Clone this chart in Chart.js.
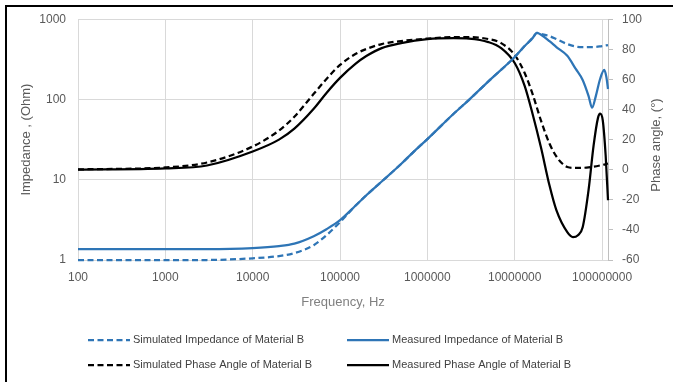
<!DOCTYPE html>
<html><head><meta charset="utf-8">
<script src="https://cdn.jsdelivr.net/npm/chart.js@4.4.0/dist/chart.umd.min.js"></script>
<style>html,body{margin:0;padding:0;background:#fff;} #c{display:block;}</style>
</head><body>
<canvas id="c" width="673" height="382"></canvas>
<script>
// ---- tick labels ----
const xTicks = [100, 1000, 10000, 100000, 1000000, 10000000, 100000000];
const zTicks = [1, 10, 100, 1000];
const xMax = 1.17e8;

// ---- series ----
const simZFreq = [100, 1000, 3000, 1e4, 2e4, 3e4, 5e4, 7e4, 1e5, 1.5e5, 2e5, 3e5, 5e5, 7e5, 1e6, 2e6, 3e6, 5e6, 1e7, 1.3e7, 1.6e7, 1.8e7, 2e7, 2.5e7, 3e7, 4e7, 5e7, 6e7, 8e7, 1e8, 1.17e8];
const simZ     = [1.0, 1.0, 1.0, 1.05, 1.12, 1.22, 1.53, 2.04, 2.96, 4.74, 6.4, 9.5, 15.7, 22.4, 32.1, 66.4, 99, 168, 338, 463, 581, 675, 655, 615, 565, 490, 456, 449, 449, 463, 476];

const measZFreq = [100, 1000, 3000, 1e4, 2e4, 3e4, 5e4, 7e4, 1e5, 1.5e5, 2e5, 3e5, 5e5, 7e5, 1e6, 2e6, 3e6, 5e6, 1e7, 1.3e7, 1.6e7, 1.8e7, 2e7, 2.5e7, 3e7, 4e7, 5e7, 6e7, 7e7, 7.7e7, 8.5e7, 9.5e7, 1.06e8, 1.12e8, 1.17e8];
const measZ     = [1.37, 1.37, 1.37, 1.41, 1.49, 1.60, 1.98, 2.42, 3.13, 4.74, 6.4, 9.5, 15.7, 22.4, 32.1, 66.4, 99, 168, 338, 463, 581, 675, 640, 533, 450, 350, 240, 175, 111, 79, 111, 180, 233, 191, 135];

const simPFreq = [100, 1000, 3000, 1e4, 2e4, 3e4, 5e4, 7e4, 1e5, 1.5e5, 2e5, 3e5, 5e5, 1e6, 2e6, 3e6, 5e6, 7e6, 1e7, 1.3e7, 1.6e7, 2e7, 2.5e7, 3e7, 3.5e7, 4e7, 5e7, 7e7, 1e8, 1.17e8];
const simP     = [0.2, 1.5, 4.8, 15.4, 26, 35.2, 50.4, 60.3, 69.6, 76.9, 80.2, 83.5, 85.5, 87.1, 88.1, 88.1, 86.8, 84.1, 76.2, 64.3, 50.4, 32.6, 17.4, 8.8, 4.1, 1.8, 1.2, 1.5, 3.1, 4.1];

const measPFreq = [100, 1000, 3000, 1e4, 2e4, 3e4, 5e4, 7e4, 1e5, 1.5e5, 2e5, 3e5, 5e5, 1e6, 2e6, 3e6, 5e6, 7e6, 1e7, 1.3e7, 1.6e7, 2e7, 2.5e7, 3e7, 4e7, 4.65e7, 5.3e7, 6e7, 7e7, 8e7, 9e7, 9.5e7, 1.02e8, 1.1e8, 1.17e8];
const measP     = [0, 0.8, 2.8, 12.1, 20, 27.3, 40.5, 51, 61, 70.3, 75.5, 80.8, 84.1, 86.8, 87.4, 87.1, 84.8, 80.8, 70.9, 55.7, 37.2, 14.7, -10.4, -26.9, -41.5, -44.8, -43.5, -38.2, -13.7, 16.0, 34.6, 37.2, 32.6, 9.4, -20.3];

const seriesLabels = [
  'Simulated Impedance of Material B',
  'Measured Impedance of Material B',
  'Simulated Phase Angle of Material B',
  'Measured Phase Angle of Material B'
];
const xTitle = 'Frequency, Hz';
const yTitle = 'Impedance , (Ohm)';
const y2Title = 'Phase angle, (°)';

// ---- styling ----
const FONT = "'Liberation Sans', Arial, sans-serif";
const BLUE = '#2e75b6';
const GRID = '#d9d9d9';
const TICK = '#595959';
const LINE_W = 2.25;
const pts = (xs, ys) => xs.map((x, i) => ({x: x, y: ys[i]}));

const legendPlugin = {
  id: 'customLegend',
  afterDraw(chart) {
    const ctx = chart.ctx;
    const cols = [88, 347], rows = [340, 365], lineLen = 42;
    chart.data.datasets.forEach((ds, i) => {
      const x = cols[i % 2], y = rows[Math.floor(i / 2)];
      ctx.save();
      ctx.strokeStyle = ds.borderColor;
      ctx.lineWidth = LINE_W;
      ctx.setLineDash(ds.borderDash || []);
      ctx.beginPath(); ctx.moveTo(x, y); ctx.lineTo(x + lineLen, y); ctx.stroke();
      ctx.setLineDash([]);
      ctx.fillStyle = '#404040';
      ctx.font = '11px ' + FONT;
      ctx.textBaseline = 'middle';
      ctx.textAlign = 'left';
      ctx.fillText(ds.label, x + lineLen + 3, y);
      ctx.restore();
    });
    // right axis title (reads bottom-to-top)
    ctx.save();
    ctx.translate(656, 145);
    ctx.rotate(-Math.PI / 2);
    ctx.fillStyle = TICK;
    ctx.font = '13px ' + FONT;
    ctx.textAlign = 'center';
    ctx.textBaseline = 'middle';
    ctx.fillText(y2Title, 0, 0);
    ctx.restore();
    // frame
    ctx.save();
    ctx.fillStyle = '#000';
    ctx.fillRect(5, 5, 668, 2);
    ctx.fillRect(5, 5, 2, 377);
    ctx.restore();
  }
};

new Chart(document.getElementById('c'), {
  type: 'line',
  data: {
    datasets: [
      {label: seriesLabels[0], data: pts(simZFreq, simZ), yAxisID: 'y', borderColor: BLUE, borderDash: [6, 3.5], clip: 4},
      {label: seriesLabels[1], data: pts(measZFreq, measZ), yAxisID: 'y', borderColor: BLUE, clip: 4},
      {label: seriesLabels[2], data: pts(simPFreq, simP), yAxisID: 'y2', borderColor: '#000', borderDash: [6, 3.5], clip: 4},
      {label: seriesLabels[3], data: pts(measPFreq, measP), yAxisID: 'y2', borderColor: '#000', clip: 4}
    ]
  },
  options: {
    responsive: false,
    animation: false,
    devicePixelRatio: 1,
    layout: {padding: {left: 14, right: 8, top: 18, bottom: 62}},
    elements: {
      point: {radius: 0},
      line: {borderWidth: LINE_W, cubicInterpolationMode: 'monotone', fill: false}
    },
    plugins: {legend: {display: false}, tooltip: {enabled: false}},
    scales: {
      x: {
        type: 'logarithmic', position: 'bottom', min: 100, max: xMax,
        afterBuildTicks: s => { s.ticks = xTicks.map(v => ({value: v})); },
        afterFit: s => { s.height = 60; },
        ticks: {callback: v => String(v), color: TICK, font: {family: FONT, size: 12}, padding: 10, maxRotation: 0, autoSkip: false},
        grid: {color: GRID, drawTicks: false, lineWidth: 1},
        border: {display: true, color: GRID},
        title: {display: true, text: xTitle, color: '#808080', font: {family: FONT, size: 13}, padding: {top: 0, bottom: 10}}
      },
      y: {
        type: 'logarithmic', position: 'left', min: 1, max: 1000,
        afterBuildTicks: s => { s.ticks = zTicks.map(v => ({value: v})); },
        afterFit: s => { s.width = 64; },
        ticks: {callback: v => String(v), color: TICK, font: {family: FONT, size: 12}, padding: 12},
        grid: {color: GRID, drawTicks: false},
        border: {display: false},
        title: {display: true, text: yTitle, color: TICK, font: {family: FONT, size: 13}, padding: {top: 5, bottom: 0}}
      },
      y2: {
        type: 'linear', position: 'right', min: -60, max: 100,
        afterFit: s => { s.width = 57; },
        ticks: {stepSize: 20, color: TICK, font: {family: FONT, size: 12}, padding: 9},
        grid: {drawOnChartArea: false, drawTicks: true, tickLength: 5, color: '#bfbfbf'},
        border: {display: true, color: '#bfbfbf'}
      }
    }
  },
  plugins: [legendPlugin]
});
</script>
</body></html>
